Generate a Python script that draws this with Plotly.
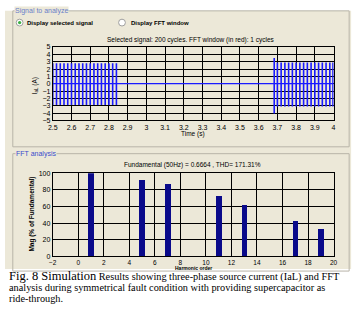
import plotly.graph_objects as go

W, H = 359, 322

# ---------------- data ----------------
# selected signal: half-cycle peaks of the line current I_aL (A)
cycle_t1 = [2.50, 2.52, 2.54, 2.56, 2.58, 2.60, 2.62, 2.64, 2.66,
            2.68, 2.70, 2.72, 2.74, 2.76, 2.78, 2.80, 2.82, 2.84]
pk_pos1 = [2.8, 2.8, 2.8, 2.8, 2.8, 2.8, 2.8, 2.8, 2.8,
           2.8, 2.8, 2.8, 2.8, 2.8, 2.8, 2.8, 2.8, 2.8]
pk_neg1 = [-2.9, -2.9, -2.9, -2.9, -2.9, -2.9, -2.9, -2.9, -2.9,
           -2.9, -2.9, -2.9, -2.9, -2.9, -2.9, -2.9, -2.9, -2.9]

cycle_t2 = [3.683, 3.70, 3.72, 3.74, 3.76, 3.78, 3.80, 3.82, 3.84,
            3.86, 3.88, 3.90, 3.92, 3.94, 3.96, 3.98, 3.997]
pk_pos2 = [3.5, 2.9, 2.9, 2.9, 2.9, 2.9, 2.9, 2.9, 2.9,
           2.9, 2.9, 2.9, 2.9, 2.9, 2.9, 2.9, 2.9]
pk_neg2 = [-4.05, -3.1, -3.1, -3.1, -3.1, -3.1, -3.1, -3.1, -3.1,
           -3.1, -3.1, -3.1, -3.1, -3.1, -3.1, -3.1, -3.1]

zero_t = [2.5, 4.0]
zero_i = [0, 0]

time_ticks = [2.5, 2.6, 2.7, 2.8, 2.9, 3.0, 3.1, 3.2, 3.3, 3.4, 3.5, 3.6, 3.7, 3.8, 3.9, 4.0]
time_labels = ["2.5", "2.6", "2.7", "2.8", "2.9", "3", "3.1", "3.2", "3.3", "3.4",
               "3.5", "3.6", "3.7", "3.8", "3.9", "4"]
cur_ticks = [5, 4, 3, 2, 1, 0, -1, -2, -3, -4, -5]

# FFT analysis
harm_order = [1, 5, 7, 11, 13, 17, 19]
harm_mag = [100, 92, 87, 72, 62, 42, 33]
harm_ticks = [-2, 0, 2, 4, 6, 8, 10, 12, 14, 16, 18, 20]
mag_ticks = [0, 20, 40, 60, 80, 100]

# ---------------- helpers ----------------
def px(x):
    return x / W

def py(y):
    return 1 - y / H

def segs(ts, lo, hi):
    xs, ys = [], []
    for t, a, b in zip(ts, lo, hi):
        xs += [t, t, None]
        ys += [a, b, None]
    return xs, ys

BEIGE = "#ece8d8"
GRIDC = "#000000"
SIGC = "#1a1aff"
SANS = "Arial, Liberation Sans, sans-serif"
SERIF = "Times New Roman, Liberation Serif, serif"

fig = go.Figure()

x1, y1 = segs(cycle_t1, pk_neg1, pk_pos1)
x2, y2 = segs(cycle_t2, pk_neg2, pk_pos2)
fig.add_trace(go.Scatter(x=zero_t, y=zero_i, mode="lines",
                         line=dict(color=SIGC, width=1.2), xaxis="x", yaxis="y",
                         showlegend=False, hoverinfo="skip"))
fig.add_trace(go.Scatter(x=x1 + x2, y=y1 + y2, mode="lines",
                         line=dict(color=SIGC, width=1.6), xaxis="x", yaxis="y",
                         showlegend=False, connectgaps=False))

fig.add_trace(go.Bar(x=harm_order, y=harm_mag, width=0.45,
                     marker=dict(color="#0a0a8a", line=dict(width=0)),
                     xaxis="x2", yaxis="y2", showlegend=False))

axis_common = dict(showgrid=True, gridcolor=GRIDC, gridwidth=1, showline=True,
                   mirror=True, linecolor="#000000", linewidth=1, zeroline=False,
                   ticks="", tickfont=dict(family=SANS, size=7, color="#000000"))

fig.update_layout(
    width=W, height=H, autosize=False,
    margin=dict(l=0, r=0, t=0, b=0),
    paper_bgcolor="#ffffff", plot_bgcolor="#ffffff",
    bargap=0,
    xaxis=dict(domain=[px(49), px(337)], anchor="y", range=[2.5, 4.0],
               tickvals=time_ticks, ticktext=time_labels, **axis_common),
    yaxis=dict(domain=[py(119), py(44)], anchor="x", range=[-5, 5],
               tickvals=cur_ticks, **axis_common),
    xaxis2=dict(domain=[px(49), px(337)], anchor="y2", range=[-2, 20],
                tickvals=harm_ticks, **axis_common),
    yaxis2=dict(domain=[py(258), py(173)], anchor="x2", range=[0, 100],
                tickvals=mag_ticks, **axis_common),
)
fig.update_xaxes(tickfont=dict(size=6.5), selector=dict(anchor="y2"))

shapes = [
    # beige GUI background
    dict(type="rect", xref="paper", yref="paper", x0=0, x1=px(355), y0=py(271), y1=py(7),
         fillcolor=BEIGE, line=dict(width=0), layer="below"),
    # group boxes
    dict(type="rect", xref="paper", yref="paper", x0=px(8), x1=px(353), y0=py(146), y1=py(7),
         line=dict(color="#b8b4a8", width=1), layer="below"),
    dict(type="rect", xref="paper", yref="paper", x0=px(8), x1=px(353), y0=py(273), y1=py(153),
         line=dict(color="#b8b4a8", width=1), layer="below"),
    # radio buttons
    dict(type="circle", xref="paper", yref="paper", x0=px(11.5), x1=px(18.5), y0=py(22.5), y1=py(15.5),
         fillcolor="#ffffff", line=dict(color="#a0a0a0", width=1), layer="below"),
    dict(type="circle", xref="paper", yref="paper", x0=px(13.3), x1=px(16.7), y0=py(20.7), y1=py(17.3),
         fillcolor="#3cb043", line=dict(width=0), layer="below"),
    dict(type="circle", xref="paper", yref="paper", x0=px(116.5), x1=px(123.5), y0=py(22.5), y1=py(15.5),
         fillcolor="#ffffff", line=dict(color="#a0a0a0", width=1), layer="below"),
]
fig.update_layout(shapes=shapes)

def ann(text, x, y, size, color="#000000", family=SANS, xanchor="center", bg=None, angle=0, bold=False):
    if bold:
        text = "<b>" + text + "</b>"
    d = dict(text=text, x=px(x), y=py(y), xref="paper", yref="paper", showarrow=False,
             xanchor=xanchor, yanchor="middle", textangle=angle,
             font=dict(family=family, size=size, color=color))
    if bg:
        d["bgcolor"] = bg
        d["borderpad"] = 0
    fig.add_annotation(**d)

ann("Signal to analyze", 9, 7, 7, color="#6a80c8", xanchor="left", bg=BEIGE)
ann("FFT analysis", 10, 153, 7, color="#3a4ccc", xanchor="left", bg=BEIGE)
ann("Display selected signal", 21, 19, 6, xanchor="left", bold=True)
ann("Display FFT window", 127, 19, 6, xanchor="left", bold=True)
ann("Selected signal: 200 cycles. FFT window (in red): 1 cycles", 191, 37, 6.5)
ann("Time (s)", 193, 133, 6.5)
ann("I<sub>aL</sub> (A)", 31, 84, 6.5, angle=-90)
ann("Fundamental (50Hz) = 0.6664 , THD= 171.31%", 192, 165, 6.5)
ann("Mag (% of Fundamental)", 28, 215, 6.5, angle=-90, bold=True)
ann("Harmonic order", 193, 269.5, 5, bold=True)

ann("<span style='font-size:12.5px'>Fig. 8 Simulation</span> Results showing three-phase source current (IaL) and FFT",
    2, 278, 10.3, family=SERIF, xanchor="left")
ann("analysis during symmetrical fault condition with providing supercapacitor as",
    2, 289.5, 10.3, family=SERIF, xanchor="left")
ann("ride-through.", 2, 301.5, 10.3, family=SERIF, xanchor="left")

fig.write_html("out.html")
